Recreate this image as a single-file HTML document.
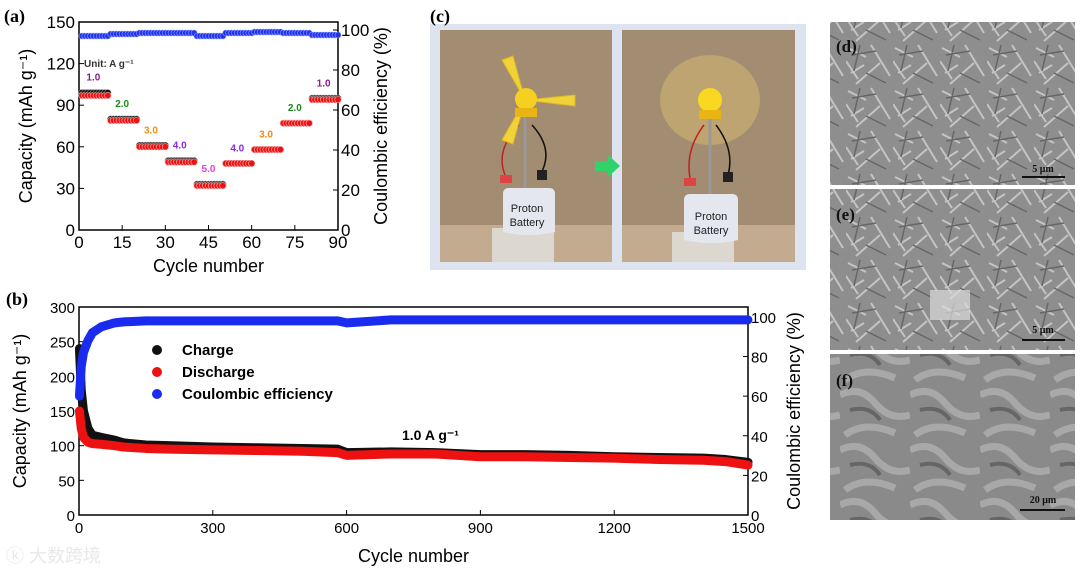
<!DOCTYPE html>
<html><head><meta charset="utf-8">
<style>
body{margin:0;background:#fff;}
svg text{font-family:"Liberation Sans","Noto Sans CJK SC",sans-serif;}
.serif{font-family:"Liberation Serif",serif !important;font-weight:bold;}
</style></head>
<body>
<svg id="fig" width="1080" height="579" viewBox="0 0 1080 579" xmlns="http://www.w3.org/2000/svg">
<defs>
<pattern id="sem" width="47" height="43" patternUnits="userSpaceOnUse">
<rect width="47" height="43" fill="#8e8e8e"/>
<path d="M2 5 L20 14 M25 2 L44 33 M5 30 L18 22 M10 41 L34 20 M0 18 L12 36" stroke="#c4c4c4" stroke-width="2"/>
<path d="M6 12 L30 8 M14 2 L8 28 M20 30 L40 40" stroke="#666" stroke-width="1.5"/>
</pattern>
<pattern id="sem2" width="70" height="55" patternUnits="userSpaceOnUse">
<rect width="70" height="55" fill="#8a8a8a"/>
<path d="M0 10 Q20 0 35 18 T70 30 M5 50 Q25 35 55 48" stroke="#a8a8a8" stroke-width="7" fill="none"/>
<path d="M10 25 Q30 20 40 35" stroke="#666" stroke-width="4" fill="none"/>
</pattern>
</defs>

<g id="pa"></g>
<g id="pb"></g>

<g>
<rect x="430" y="24" width="376" height="246" fill="#dde4f0"/>
<text x="430" y="22" class="serif" font-size="18">(c)</text>
<g>
<rect x="440" y="30" width="172" height="232" fill="#a28c72"/>
<rect x="440" y="225" width="172" height="37" fill="#c2ab8e"/>
<rect x="492" y="228" width="62" height="34" fill="#ddd8cf"/>
<line x1="525" y1="110" x2="525" y2="195" stroke="#999" stroke-width="3"/>
<path d="M519 125 Q495 150 505 175" stroke="#c02020" stroke-width="1.5" fill="none"/>
<path d="M532 125 Q555 150 540 175" stroke="#111" stroke-width="1.5" fill="none"/>
<rect x="500" y="175" width="12" height="8" fill="#d44"/>
<rect x="537" y="170" width="10" height="10" fill="#222"/>
<path d="M503 188 h46 q6 0 6 6 v38 q-26 6 -52 0 v-38 q0 -6 6-6z" fill="#e4e8ee"/>
<text x="527" y="212" font-size="11" text-anchor="middle" fill="#222">Proton</text>
<text x="527" y="226" font-size="11" text-anchor="middle" fill="#222">Battery</text>
<path d="M525 100 L502 60 L513 56 Z M525 100 L575 95 L575 106 Z M525 100 L502 140 L513 144 Z" fill="#f2d23a" stroke="#e0b820"/>
<circle cx="526" cy="99" r="11" fill="#f5d020"/>
<rect x="515" y="108" width="22" height="9" fill="#e9b414"/>
</g>
<polygon points="595,161 608,161 608,155 620,166 608,177 608,171 595,171" fill="#2fd36a"/>
<g>
<rect x="622" y="30" width="173" height="232" fill="#a28c72"/>
<rect x="622" y="225" width="173" height="37" fill="#c2ab8e"/>
<rect x="672" y="232" width="62" height="30" fill="#ddd8cf"/>
<ellipse cx="710" cy="100" rx="50" ry="45" fill="#d8bb70" opacity="0.5"/>
<line x1="710" y1="110" x2="710" y2="195" stroke="#999" stroke-width="3"/>
<path d="M704 125 Q685 150 690 178" stroke="#c02020" stroke-width="1.5" fill="none"/>
<path d="M716 125 Q735 150 728 175" stroke="#111" stroke-width="1.5" fill="none"/>
<rect x="684" y="178" width="12" height="8" fill="#d44"/>
<rect x="723" y="172" width="10" height="10" fill="#222"/>
<path d="M688 194 h44 q6 0 6 6 v40 q-26 6 -54 0 v-40 q0 -6 6-6z" fill="#e4e8ee"/>
<text x="711" y="220" font-size="11" text-anchor="middle" fill="#222">Proton</text>
<text x="711" y="234" font-size="11" text-anchor="middle" fill="#222">Battery</text>
<circle cx="710" cy="100" r="12" fill="#f8d820"/>
<rect x="699" y="110" width="22" height="9" fill="#e9b414"/>
</g>
</g>

<g>
<rect x="830" y="22" width="245" height="163" fill="url(#sem)"/>
<text x="836" y="52" class="serif" font-size="17" fill="#111">(d)</text>
<text x="1043" y="172" class="serif" font-size="10" text-anchor="middle" fill="#111">5 μm</text>
<line x1="1022" y1="177" x2="1065" y2="177" stroke="#111" stroke-width="2"/>
</g>
<g>
<rect x="830" y="189" width="245" height="161" fill="url(#sem)"/>
<rect x="930" y="290" width="40" height="30" fill="#dcdcdc" opacity="0.7"/>
<text x="836" y="220" class="serif" font-size="17" fill="#111">(e)</text>
<text x="1043" y="333" class="serif" font-size="10" text-anchor="middle" fill="#111">5 μm</text>
<line x1="1022" y1="340" x2="1065" y2="340" stroke="#111" stroke-width="2"/>
</g>
<g>
<rect x="830" y="354" width="245" height="166" fill="url(#sem2)"/>
<text x="836" y="386" class="serif" font-size="17" fill="#111">(f)</text>
<text x="1043" y="503" class="serif" font-size="10" text-anchor="middle" fill="#111">20 μm</text>
<line x1="1020" y1="510" x2="1065" y2="510" stroke="#111" stroke-width="2"/>
</g>
<text x="6" y="562" font-size="18" fill="#e8e8e8">ⓚ 大数跨境</text>
</svg>
<script>
// ---- Panel (a) data ----
const aRates = ["1.0","2.0","3.0","4.0","5.0","4.0","3.0","2.0","1.0"];
const aRateColors = ["#8b1a8b","#1a8a1a","#f08c1a","#8a2be2","#e040e0","#8a2be2","#f08c1a","#1a8a1a","#8b1a8b"];
const aCharge = [99,80,61,50,33,48,58,77,95];
const aDischarge = [97,79,60,49,32,48,58,77,94];
const aCE = [97,98,98.5,98.5,97,98.5,99,98.5,97.5];
const aXTicks = [0,15,30,45,60,75,90];
const aYTicks = [0,30,60,90,120,150];
const aY2Ticks = [0,20,40,60,80,100];
// ---- Panel (b) data ----
const bCycles = [1,5,10,20,30,50,80,100,150,200,300,400,500,580,600,700,800,900,1000,1100,1200,1300,1400,1450,1500];
const bCharge = [240,180,150,125,115,112,108,104,101,100,98,97,96,95,90,91,90,87,87,86,84,83,82,80,76];
const bDischarge = [150,125,112,105,103,102,100,98,96,95,94,93,92,90,86,88,88,84,84,83,82,80,79,77,72];
const bCE = [60,75,82,88,92,95,97,97.5,98,98,98,98,98,98,97,98.5,98.5,98.5,98.5,98.5,98.5,98.5,98.5,98.5,98.5];
const bXTicks = [0,300,600,900,1200,1500];
const bYTicks = [0,50,100,150,200,250,300];
const bY2Ticks = [0,20,40,60,80,100];

const NS="http://www.w3.org/2000/svg";
function mk(parent,tag,attrs,txt){const e=document.createElementNS(NS,tag);for(const k in attrs)e.setAttribute(k,attrs[k]);if(txt!==undefined)e.textContent=txt;parent.appendChild(e);return e;}

function axes(g,o){
  const {L,R,T,B,xmax,ymax,y2max,xt,yt,y2t,fs}=o;
  const X=v=>L+(R-L)*v/xmax, Y=v=>B-(B-T)*v/ymax, Y2=v=>B-(B-T)*v/y2max;
  const fr=mk(g,'rect',{x:L,y:T,width:R-L,height:B-T,fill:'none',stroke:'#000','stroke-width':1.5});
  
  
  xt.forEach(v=>{mk(g,'line',{x1:X(v),x2:X(v),y1:B,y2:B-5,stroke:'#000'});
    const t=mk(g,'text',{x:X(v),y:B+18,'font-size':fs,'text-anchor':'middle'},v);
    
    });
  yt.forEach(v=>{mk(g,'line',{x1:L,x2:L+5,y1:Y(v),y2:Y(v),stroke:'#000'});
    const t=mk(g,'text',{x:L-4,y:Y(v)+6,'font-size':fs,'text-anchor':'end'},v);
    
    });
  y2t.forEach(v=>{mk(g,'line',{x1:R,x2:R-5,y1:Y2(v),y2:Y2(v),stroke:'#000'});
    const t=mk(g,'text',{x:R+3,y:Y2(v)+6,'font-size':fs,'text-anchor':'start'},v);
    
    });
  return {X,Y,Y2};
}

(function(){
  const g=document.getElementById('pa');
  const L=79,R=338,T=22,B=230;
  const s=axes(g,{L,R,T,B,xmax:90,ymax:150,y2max:104,xt:aXTicks,yt:aYTicks,y2t:aY2Ticks,fs:17});
  mk(g,'text',{x:4,y:22,'font-size':18,class:'serif'},'(a)');
  const xl=mk(g,'text',{x:(L+R)/2,y:272,'font-size':18,'text-anchor':'middle'},'Cycle number');
  
  
  const yl=mk(g,'text',{x:0,y:0,'font-size':18,'text-anchor':'middle',transform:`translate(32,${(T+B)/2}) rotate(-90)`},'Capacity (mAh g⁻¹)');
  
  
  const y2l=mk(g,'text',{x:0,y:0,'font-size':18,'text-anchor':'middle',transform:`translate(387,${(T+B)/2}) rotate(-90)`},'Coulombic efficiency (%)');
  
  
  mk(g,'text',{x:84,y:67,'font-size':10,'font-weight':'bold',fill:'#333'},'Unit: A g⁻¹');
  aRates.forEach((r,i)=>{
    for(let k=0;k<10;k++){
      const c=i*10+k+1;
      if(c>90)break;
      const ce=mk(g,'circle',{cx:s.X(c),cy:s.Y2(aCE[i]),r:3,fill:'#2233ee',stroke:'#8899ff','stroke-width':0.6});
      
      
      const ch=mk(g,'circle',{cx:s.X(c),cy:s.Y(aCharge[i]),r:3.2,fill:'#111',stroke:'#888','stroke-width':0.6});
      
      
      const dc=mk(g,'circle',{cx:s.X(c),cy:s.Y(aDischarge[i]),r:3.2,fill:'#ee1111',stroke:'#ffaaaa','stroke-width':0.6});
      
      
    }
    const lb=mk(g,'text',{x:s.X(i*10+5),y:s.Y(aCharge[i])-12,'font-size':10,'font-weight':'bold','text-anchor':'middle',fill:aRateColors[i]},r);
    
    
  });
})();

(function(){
  const g=document.getElementById('pb');
  const L=79,R=748,T=307,B=515;
  const s=axes(g,{L,R,T,B,xmax:1500,ymax:300,y2max:105,xt:bXTicks,yt:bYTicks,y2t:bY2Ticks,fs:15});
  mk(g,'text',{x:6,y:305,'font-size':18,class:'serif'},'(b)');
  const xl=mk(g,'text',{x:(L+R)/2,y:562,'font-size':18,'text-anchor':'middle'},'Cycle number');
  
  
  const yl=mk(g,'text',{x:0,y:0,'font-size':18,'text-anchor':'middle',transform:`translate(26,${(T+B)/2}) rotate(-90)`},'Capacity (mAh g⁻¹)');
  
  
  const y2l=mk(g,'text',{x:0,y:0,'font-size':18,'text-anchor':'middle',transform:`translate(800,${(T+B)/2}) rotate(-90)`},'Coulombic efficiency (%)');
  
  
  function series(vals,fn,col,name){
    const pts=bCycles.map((c,i)=>s.X(c)+','+fn(vals[i])).join(' ');
    const p=mk(g,'polyline',{points:pts,fill:'none',stroke:col,'stroke-width':9,'stroke-linejoin':'round','stroke-linecap':'round'});
    
    
  }
  series(bCharge,s.Y,'#111','charge-series');
  series(bDischarge,s.Y,'#ee1111','discharge-series');
  series(bCE,s.Y2,'#1a2bf0','ce-series');
  const leg=[['Charge','#111',355],['Discharge','#ee1111',377],['Coulombic efficiency','#1a2bf0',399]];
  leg.forEach(([t,c,y])=>{
    const d=mk(g,'circle',{cx:157,cy:y-5,r:5,fill:c});
    
    
    const tx=mk(g,'text',{x:182,y:y,'font-size':15,'font-weight':'bold'},t);
    
    
  });
  mk(g,'text',{x:402,y:440,'font-size':14,'font-weight':'bold'},'1.0 A g⁻¹');
})();
</script>
</body></html>
